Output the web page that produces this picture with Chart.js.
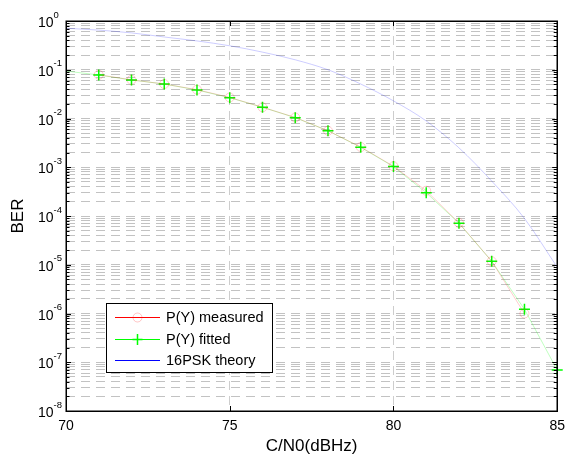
<!DOCTYPE html>
<html>
<head>
<meta charset="utf-8">
<script src="https://cdn.jsdelivr.net/npm/chart.js@4/dist/chart.umd.min.js"></script>
<style>
html,body{margin:0;padding:0;background:#fff;}
#c{display:block;}
</style>
</head>
<body>
<canvas id="c" width="572" height="455"></canvas>
<script>
// ---- data ----
const measuredX = [71, 72, 73, 74, 75, 76, 77, 78, 79, 80, 81, 82, 83, 84];
const measuredY = [0.079, 0.062, 0.051, 0.039, 0.027, 0.017, 0.0105, 0.0056, 0.0026, 0.00105, 0.00033, 0.000072, 0.0000118, 0.000001];
const fittedX = [70, 71, 72, 73, 74, 75, 76, 77, 78, 79, 80, 81, 82, 83, 84, 85];
const fittedY = [0.094, 0.078, 0.0617, 0.051, 0.0384, 0.0267, 0.017, 0.0104, 0.0056, 0.00257, 0.00103, 0.0003, 0.000071, 0.0000118, 0.00000122, 0.000000069];
const fittedMarkers = [false, true, true, true, true, true, true, true, true, true, true, true, true, true, true, true];
const theoryX = [70, 71, 72, 73, 74, 75, 76, 77, 78, 79, 80, 81, 82, 83, 84, 85];
const theoryY = [0.71, 0.65, 0.57, 0.47, 0.39, 0.31, 0.23, 0.16, 0.1, 0.051, 0.023, 0.0089, 0.0025, 0.00052, 0.000089, 0.0000089];
const seriesNames = ['P(Y) measured', 'P(Y) fitted', '16PSK theory'];
const xTicks = [70, 75, 80, 85];
const yTickExponents = [0, -1, -2, -3, -4, -5, -6, -7, -8];
const xTitle = 'C/N0(dBHz)';
const yTitle = 'BER';

const FONT = '"Liberation Sans", Arial, Helvetica, sans-serif';
const toXY = (xs, ys) => xs.map((x, i) => ({x: x, y: ys[i]}));

// all log ticks (major + minor) for grid lines
function logTickValues() {
  const out = [];
  const minE = Math.min(...yTickExponents), maxE = Math.max(...yTickExponents);
  for (let e = minE; e < maxE; e++) {
    for (let m = 1; m <= 9; m++) out.push(m * Math.pow(10, e));
  }
  out.push(Math.pow(10, maxE));
  return out;
}

const framePlugin = {
  id: 'frame',
  afterDatasetsDraw(chart) {
    const ctx = chart.ctx;
    const a = chart.chartArea;
    const xs = chart.scales.x, ys = chart.scales.y;
    ctx.save();
    ctx.strokeStyle = '#000';
    ctx.lineWidth = 1;
    // ticks (inward) on y
    ctx.beginPath();
    logTickValues().forEach(v => {
      const y = Math.round(ys.getPixelForValue(v)) + 0.5;
      const major = Math.abs(Math.log10(v) - Math.round(Math.log10(v))) < 1e-9;
      const len = major ? 5 : 3.5;
      ctx.moveTo(a.left, y); ctx.lineTo(a.left + len, y);
      ctx.moveTo(a.right, y); ctx.lineTo(a.right - len, y);
    });
    // ticks on x
    xTicks.forEach(v => {
      const x = Math.round(xs.getPixelForValue(v)) + 0.5;
      ctx.moveTo(x, a.bottom); ctx.lineTo(x, a.bottom - 5);
      ctx.moveTo(x, a.top); ctx.lineTo(x, a.top + 5);
    });
    ctx.stroke();
    // box
    ctx.lineWidth = 1.5;
    ctx.strokeRect(Math.round(a.left) + 0.25, Math.round(a.top) + 0.25, Math.round(a.right - a.left), Math.round(a.bottom - a.top));
    // y tick labels: 10^e
    ctx.fillStyle = '#000';
    ctx.textBaseline = 'alphabetic';
    ctx.textAlign = 'left';
    yTickExponents.forEach(e => {
      const y = ys.getPixelForValue(Math.pow(10, e));
      ctx.font = '14px ' + FONT;
      const base = '10';
      ctx.fillText(base, 38, y + 6);
      const w = ctx.measureText(base).width;
      ctx.font = '9.5px ' + FONT;
      ctx.fillText(String(e), 38 + w, y - 3.5);
    });
    // legend
    const L = {x: 106, y: 303, w: 166, h: 69};
    ctx.fillStyle = '#fff';
    ctx.fillRect(L.x, L.y, L.w, L.h);
    ctx.lineWidth = 1;
    ctx.strokeStyle = '#000';
    ctx.strokeRect(L.x + 0.5, L.y + 0.5, L.w, L.h);
    const rows = [317, 339, 360];
    const cols = ['#ff0000', '#00ff00', '#0000ff'];
    rows.forEach((ry, i) => {
      ctx.strokeStyle = cols[i];
      ctx.lineWidth = 1;
      ctx.beginPath();
      ctx.moveTo(115, ry + 0.5); ctx.lineTo(160, ry + 0.5);
      ctx.stroke();
      const mx = 137.5;
      if (i === 0) {
        ctx.strokeStyle = 'rgba(255,0,0,0.22)';
        ctx.beginPath(); ctx.arc(mx, ry + 0.5, 4.5, 0, Math.PI * 2); ctx.stroke();
      } else if (i === 1) {
        ctx.strokeStyle = '#00ff00';
        ctx.lineWidth = 1.5;
        ctx.beginPath();
        ctx.moveTo(mx - 5, ry + 0.5); ctx.lineTo(mx + 5, ry + 0.5);
        ctx.moveTo(mx, ry - 5); ctx.lineTo(mx, ry + 6);
        ctx.stroke();
      }
      ctx.fillStyle = '#000';
      ctx.font = '14.5px ' + FONT;
      ctx.textBaseline = 'middle';
      ctx.fillText(chart.data.datasets[i].label, 166, ry + 1);
    });
    ctx.restore();
  }
};

new Chart(document.getElementById('c'), {
  type: 'line',
  data: {
    datasets: [
      {
        label: seriesNames[0],
        data: toXY(measuredX, measuredY),
        borderColor: 'rgba(255,0,0,0.2)',
        borderWidth: 1,
        pointStyle: 'circle',
        pointRadius: 4.5,
        pointBorderColor: 'rgba(255,0,0,0.2)',
        pointBackgroundColor: 'rgba(0,0,0,0)',
        pointBorderWidth: 1,
        fill: false,
        tension: 0
      },
      {
        label: seriesNames[1],
        data: toXY(fittedX, fittedY),
        borderColor: 'rgba(0,255,0,0.25)',
        borderWidth: 1,
        pointStyle: 'cross',
        pointRadius: fittedMarkers.map(m => m ? 5.5 : 0),
        pointBorderColor: '#00ff00',
        pointBackgroundColor: '#00ff00',
        pointBorderWidth: 1.5,
        fill: false,
        tension: 0,
        clip: false
      },
      {
        label: seriesNames[2],
        data: toXY(theoryX, theoryY),
        borderColor: 'rgba(0,0,255,0.2)',
        borderWidth: 1,
        pointRadius: 0,
        fill: false,
        cubicInterpolationMode: 'monotone'
      }
    ]
  },
  options: {
    responsive: false,
    animation: false,
    devicePixelRatio: 1,
    layout: {padding: {top: 21, right: 8, left: 0, bottom: 0}},
    plugins: {legend: {display: false}, tooltip: {enabled: false}},
    scales: {
      x: {
        type: 'linear',
        min: 70, max: 85,
        afterBuildTicks: s => { s.ticks = xTicks.map(v => ({value: v})); },
        afterFit: s => { s.height = 44; },
        ticks: {
          color: '#000',
          font: {family: FONT, size: 14},
          padding: 7,
          maxRotation: 0,
          autoSkip: false
        },
        grid: {
          color: '#cdcdcd',
          lineWidth: 1,
          drawTicks: false
        },
        border: {display: false, dash: [9, 6]},
        title: {
          display: true,
          text: xTitle,
          color: '#000',
          font: {family: FONT, size: 17, lineHeight: 1},
          padding: {top: 0, bottom: 0}
        }
      },
      y: {
        type: 'logarithmic',
        min: 1e-8, max: 1,
        afterBuildTicks: s => { s.ticks = logTickValues().map(v => ({value: v})); },
        afterFit: s => { s.width = 66; },
        ticks: {display: false},
        grid: {
          color: '#c2c2c2',
          lineWidth: 1,
          drawTicks: false
        },
        border: {display: false, dash: [9, 6], dashOffset: 0},
        title: {
          display: true,
          text: yTitle,
          color: '#000',
          font: {family: FONT, size: 17, lineHeight: 1},
          padding: {top: 10, bottom: 0}
        }
      }
    }
  },
  plugins: [framePlugin]
});
</script>
</body>
</html>
